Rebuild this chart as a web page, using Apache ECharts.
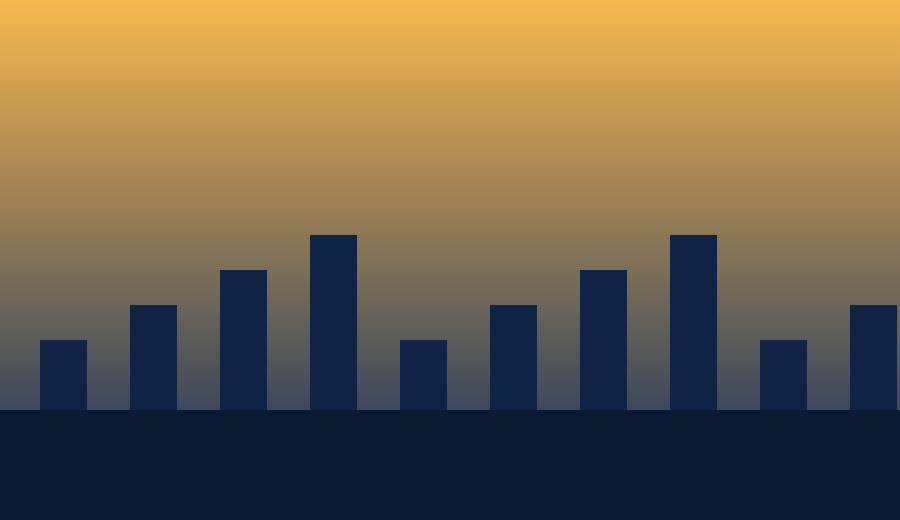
<!DOCTYPE html>
<html><head><meta charset="utf-8">
<script src="https://cdn.jsdelivr.net/npm/echarts@6/dist/echarts.min.js"></script>
<style>html,body{margin:0;padding:0;background:#0b1a33}#c{width:900px;height:520px}</style>
</head><body><div id="c"></div>
<script>
const positions = [0,1,2,3,4,5,6,7,8,9];
const heights = [2,3,4,5,2,3,4,5,2,3];

const chart = echarts.init(document.getElementById('c'));
chart.setOption({
  animation: false,
  backgroundColor: {
    type: 'linear', x: 0, y: 0, x2: 0, y2: 1,
    colorStops: [
      {offset: 0, color: '#f8b84e'},
      {offset: 0.7875, color: '#3c485b'},
      {offset: 0.7885, color: '#0b1a33'},
      {offset: 1, color: '#0b1a33'}
    ]
  },
  grid: {left: 0, right: 0, top: 60, bottom: 110},
  xAxis: {type: 'value', min: -63.5/90, max: -63.5/90 + 10, show: false},
  yAxis: {type: 'value', min: 0, max: 10, show: false},
  series: [{
    type: 'bar', data: positions.map((p, i) => [p, heights[i]]), barWidth: 47,
    itemStyle: {color: '#0f2444'}
  }]
});
</script></body></html>
